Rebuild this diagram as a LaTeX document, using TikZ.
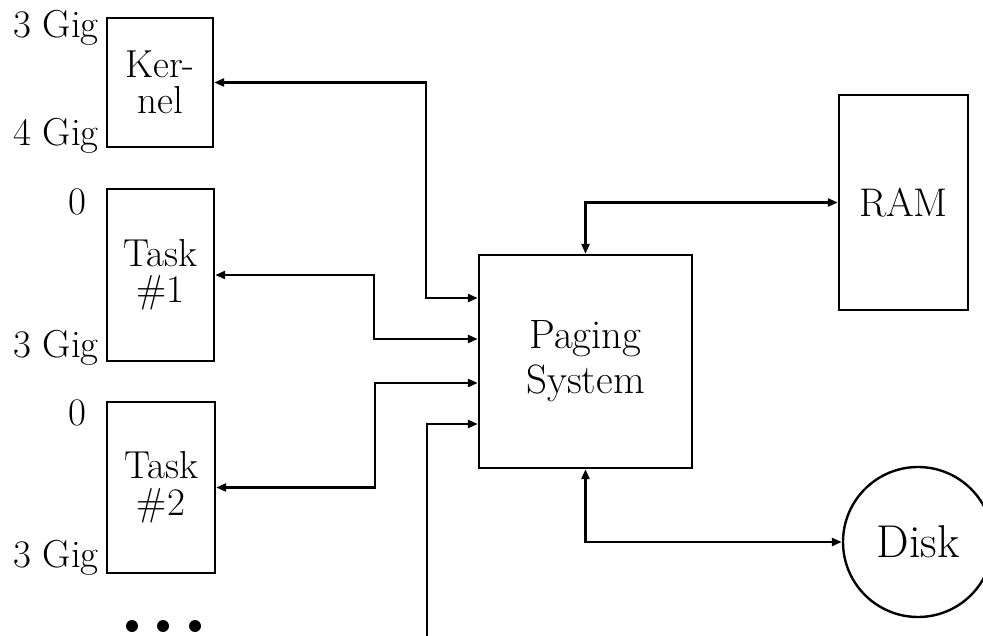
\documentclass[tikz,border=0pt]{standalone}
\usepackage{fontspec}
\usetikzlibrary{arrows.meta}
\newcommand{\lblfont}{\fontsize{39}{36.5}\selectfont}
\begin{document}
\begin{tikzpicture}[x=1pt,y=-1pt,
  box/.style={draw, line width=2.4pt, align=center, inner sep=0pt, font=\lblfont},
  lab/.style={inner sep=0pt, font=\lblfont},
  dotnode/.style={circle, fill, inner sep=0pt, minimum size=12pt},
  tipshape/.tip={Triangle[length=10pt,width=8pt]},
  dbl/.style={line width=2.4pt, tipshape-tipshape},
  sgl/.style={line width=2.4pt, -tipshape}]
\useasboundingbox (0,0) rectangle (983,636);
\clip (0,0) rectangle (983,636);

% boxes
\node[box, minimum width=106pt, minimum height=129pt] (kernel) at (160,82.5) {Ker-\\nel};
\node[box, minimum width=107pt, minimum height=172pt] (task1) at (160.5,275) {Task\\\#1};
\node[box, minimum width=108pt, minimum height=171pt] (task2) at (161,487.5) {Task\\\#2};
\node[box, minimum width=213pt, minimum height=213pt, font=\fontsize{41}{45}\selectfont] (paging) at (585.5,361.5) {Paging\\System};
\node[box, minimum width=129pt, minimum height=215pt, font=\fontsize{40}{42}\selectfont] (ram) at (903.5,202.5) {RAM};
\node[box, circle, minimum size=150pt, font=\fontsize{46}{48}\selectfont] (disk) at (918,542) {Disk};

% address labels
\node[lab, anchor=base east] (k3) at (99,38) {3 Gig};
\node[lab, anchor=base east] (k4) at (99,146) {4 Gig};
\node[lab, anchor=base] (t10) at (77,215) {0};
\node[lab, anchor=base east] (t13) at (99,358) {3 Gig};
\node[lab, anchor=base] (t20) at (77,425) {0};
\node[lab, anchor=base east] (t23) at (99,567) {3 Gig};

% ellipsis dots
\node[dotnode] (d1) at (132,626) {};
\node[dotnode] (d2) at (163,626) {};
\node[dotnode] (d3) at (195,626) {};

% connectors
\coordinate (bot) at (427,640);
\draw[dbl] (kernel.east) -| (426,298) -- (paging.west |- 0,298);
\draw[dbl] (task1.east) -| (374,339) -- (paging.west |- 0,339);
\draw[dbl] (task2.east) -| (375,383) -- (paging.west |- 0,383);
\draw[sgl] (bot) |- (paging.west |- 0,424);
\draw[dbl] (paging.north) |- (ram.west);
\draw[dbl] (paging.south) |- (disk.west);
\end{tikzpicture}
\end{document}
